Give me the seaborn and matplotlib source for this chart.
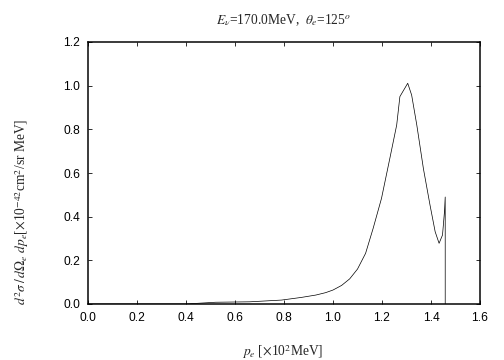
import matplotlib
matplotlib.use("Agg")
import matplotlib.pyplot as plt
import seaborn as sns
import pandas as pd

p_e = [0.0, 0.40, 0.52, 0.66, 0.79, 0.87, 0.93, 0.97, 1.00, 1.035, 1.068, 1.10, 1.133,
       1.164, 1.198, 1.232, 1.26, 1.273, 1.305, 1.321, 1.342, 1.369, 1.396, 1.417,
       1.433, 1.447, 1.455, 1.458, 1.458]
xsec = [0.0, 0.0, 0.008, 0.010, 0.018, 0.030, 0.041, 0.052, 0.064, 0.085, 0.115, 0.16, 0.232,
        0.347, 0.484, 0.667, 0.82, 0.95, 1.011, 0.957, 0.82, 0.62, 0.453, 0.331,
        0.278, 0.316, 0.423, 0.49, 0.0]

xticks = [0.0, 0.2, 0.4, 0.6, 0.8, 1.0, 1.2, 1.4, 1.6]
yticks = [0.0, 0.2, 0.4, 0.6, 0.8, 1.0, 1.2]

sns.set_style("ticks")
plt.rcParams['font.family'] = ['Liberation Sans', 'DejaVu Sans']
plt.rcParams['mathtext.fontset'] = 'stix'

df = pd.DataFrame({"p": p_e, "s": xsec})
fig = plt.figure(figsize=(7, 5), dpi=72)
ax = fig.add_axes([88/504, 56/360, 392/504, 262/360])
sns.lineplot(data=df, x="p", y="s", ax=ax, sort=False, color="black", linewidth=0.7,
             estimator=None)
ax.set_xlim(0, 1.6)
ax.set_ylim(0, 1.2)
ax.set_xticks(xticks)
ax.set_yticks(yticks)
ax.set_xticklabels([f"{t:.1f}" for t in xticks])
ax.set_yticklabels([f"{t:.1f}" for t in yticks])
ax.tick_params(direction="in", length=4, width=0.8, top=True, right=True,
               labelsize=12, pad=8, colors="black")
for s in ax.spines.values():
    s.set_linewidth(1.5)
    s.set_color("black")
ax.set_xlabel("")
ax.set_ylabel("")
serif = ['Liberation Serif', 'DejaVu Serif']
fig.text(283/504, 1 - 20/360, r"$E_\nu$=170.0MeV,  $\theta_e$=125$^o$",
         ha="center", va="center", fontsize=13.5, family=serif)
fig.text(283/504, 1 - 352/360, r"$p_e$ [$\times$10$^2$MeV]",
         ha="center", va="center", fontsize=13.5, family=serif)
fig.text(22/504, 1 - 212/360,
         r"$d^{2}\sigma\,/\,d\Omega_e\ dp_e$[$\times$10$^{-42}$cm$^2$/sr MeV]",
         ha="center", va="center", rotation=90, fontsize=13.5, family=serif)
fig.savefig("out.png", dpi=72)
